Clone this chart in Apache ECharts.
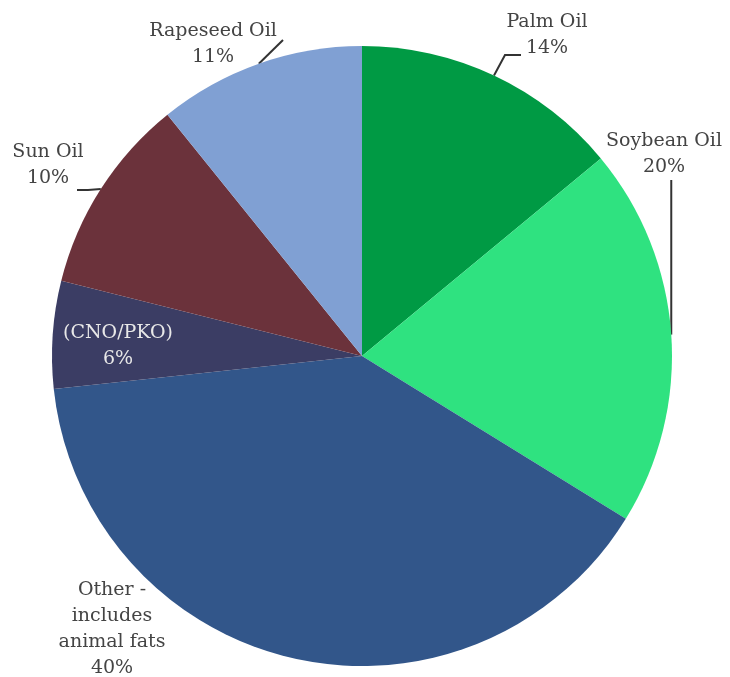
<!DOCTYPE html>
<html>
<head>
<meta charset="utf-8">
<script src="https://cdn.jsdelivr.net/npm/echarts@6/dist/echarts.min.js"></script>
<style>html,body{margin:0;padding:0;background:#fff;}#chart{width:730px;height:677px;}</style>
</head>
<body>
<div id="chart"></div>
<script>
// Data
var categories = ['Palm Oil', 'Soybean Oil', 'Other -\nincludes\nanimal fats', '(CNO/PKO)', 'Sun Oil', 'Rapeseed Oil'];
var shares = [14.0, 19.8, 39.5, 5.6, 10.3, 10.8];

// Styling / layout (not data)
var sliceColors = ['#009a44', '#2fe280', '#32568a', '#3b3d64', '#6b323b', '#80a0d3'];
var labelColors = ['#444', '#444', '#444', '#e8e8e8', '#444', '#444'];
var showLines = [true, true, false, false, true, true];
// label centre positions and line bend points (layout)
var labelPos = [[547, 35], [664, 154], [112, 629], [118, 346], [48, 165], [213, 44]];
var lineBends = [
  [[505, 55], [521, 55]],
  [[671, 180]],
  [],
  [],
  [[88, 190], [77, 190]],
  [[283, 40]]
];

var chart = echarts.init(document.getElementById('chart'));
var seriesData = categories.map(function (c, i) {
  return {
    name: c,
    value: shares[i],
    itemStyle: { color: sliceColors[i] },
    label: { color: labelColors[i] },
    labelLine: { show: showLines[i] }
  };
});

chart.setOption({
  animation: false,
  series: [{
    type: 'pie',
    center: [362, 356],
    radius: 310,
    startAngle: 90,
    clockwise: true,
    avoidLabelOverlap: false,
    itemStyle: { borderWidth: 0 },
    emphasis: { disabled: true },
    label: {
      show: true,
      position: 'outside',
      fontFamily: 'DejaVu Serif',
      fontSize: 19,
      lineHeight: 26,
      align: 'center',
      formatter: function (p) { return p.name + '\n' + Math.round(p.percent) + '%'; }
    },
    labelLine: {
      show: true,
      length: 20,
      length2: 15,
      lineStyle: { color: '#333', width: 2 }
    },
    labelLayout: function (params) {
      var i = params.dataIndex;
      var out = {
        x: labelPos[i][0],
        y: labelPos[i][1],
        align: 'center',
        verticalAlign: 'middle'
      };
      if (showLines[i] && params.labelLinePoints && params.labelLinePoints.length) {
        var p0 = params.labelLinePoints[0];
        var pts = [[p0[0], p0[1]]];
        lineBends[i].forEach(function (b) { pts.push(b); });
        if (i === 1) { pts[1] = [p0[0], lineBends[i][0][1]]; }
        out.labelLinePoints = pts;
      }
      return out;
    },
    data: seriesData
  }]
});
</script>
</body>
</html>
